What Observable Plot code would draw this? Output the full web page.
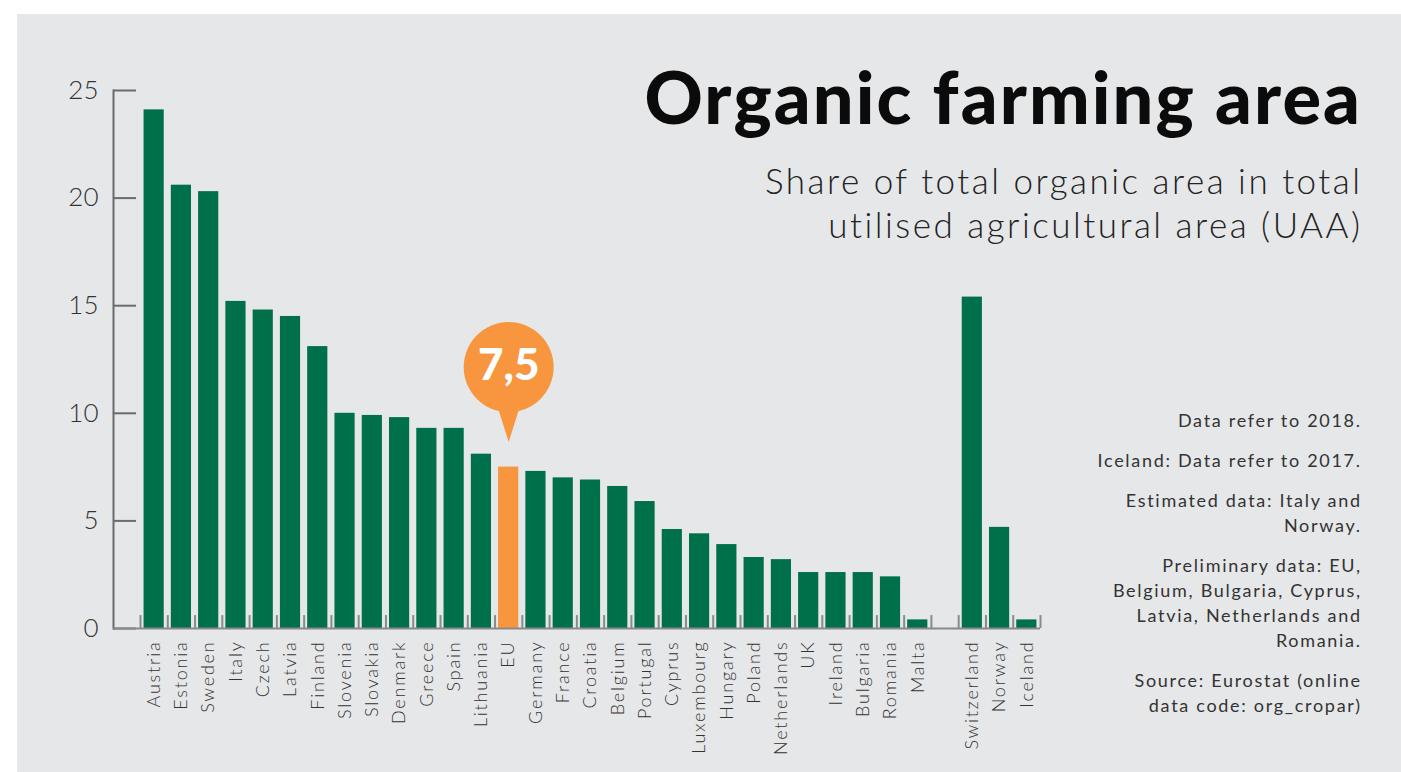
<!DOCTYPE html>
<html><head><meta charset="utf-8">
<script src="https://cdn.jsdelivr.net/npm/d3@7"></script>
<script src="https://cdn.jsdelivr.net/npm/@observablehq/plot@0.6"></script>
<style>
body{margin:0;background:#fff;width:1401px;height:772px;overflow:hidden;position:relative;font-family:Lato,"Open Sans",sans-serif}
#panel{position:absolute;left:17px;top:14px;width:1384px;height:758px;background:#e6e7e9}
#chart{position:absolute;left:0;top:0}
#title{position:absolute;right:41px;top:60px;font-size:72px;line-height:72px;font-weight:900;color:#0b0b0b;white-space:nowrap;letter-spacing:2.1px;margin-right:-2.1px}
#subtitle{position:absolute;right:41px;top:158px;font-size:35px;line-height:44px;font-weight:300;color:#222;text-align:right;white-space:nowrap;letter-spacing:2.5px;margin-right:-2.5px}
#notes{position:absolute;right:41px;top:408px;font-size:18px;line-height:25px;font-weight:400;color:#333;text-align:right;white-space:nowrap;letter-spacing:1.7px;margin-right:-1.7px}
#notes p{margin:0 0 15px 0}
#chart svg g[aria-label="x-axis tick label"] text{letter-spacing:1.8px}
</style></head>
<body>
<div id="panel"></div>
<div id="chart"></div>
<div id="title">Organic farming area</div>
<div id="subtitle">Share of total organic area in total<br>utilised agricultural area (UAA)</div>
<div id="notes">
<p>Data refer to 2018.</p>
<p>Iceland: Data refer to 2017.</p>
<p>Estimated data: Italy and<br>Norway.</p>
<p>Preliminary data: EU,<br>Belgium, Bulgaria, Cyprus,<br>Latvia, Netherlands and<br>Romania.</p>
<p>Source: Eurostat (online<br>data code: org_cropar)</p>
</div>
<script>
const countries = ["Austria","Estonia","Sweden","Italy","Czech","Latvia","Finland","Slovenia","Slovakia","Denmark","Greece","Spain","Lithuania","EU","Germany","France","Croatia","Belgium","Portugal","Cyprus","Luxembourg","Hungary","Poland","Netherlands","UK","Ireland","Bulgaria","Romania","Malta"];
const shares = [24.1,20.6,20.3,15.2,14.8,14.5,13.1,10.0,9.9,9.8,9.3,9.3,8.1,7.5,7.3,7.0,6.9,6.6,5.9,4.6,4.4,3.9,3.3,3.2,2.6,2.6,2.6,2.4,0.4];
const otherCountries = ["Switzerland","Norway","Iceland"];
const otherShares = [15.4,4.7,0.4];
const highlight = "EU";
const yTicks = [0,5,10,15,20,25];
const GAP = " ";

const green = "#00704a", orange = "#f7963f";
const rows = countries.map((c,i)=>({country:c, value:shares[i]}))
  .concat(otherCountries.map((c,i)=>({country:c, value:otherShares[i]})));
const domain = [...countries, GAP, ...otherCountries];
const x0 = 140, x1 = 1040;
const step = (x1 - x0) / domain.length;
const euRow = rows.filter(d => d.country === highlight);

const pointer = {draw(ctx){ ctx.moveTo(0,0); ctx.lineTo(-12,-38); ctx.lineTo(12,-38); ctx.closePath(); }};

const chart = Plot.plot({
  width:1401, height:772,
  marginLeft:113, marginRight:361, marginTop:90, marginBottom:144,
  style:{background:"transparent", fontFamily:"Lato, 'Open Sans', sans-serif", color:"#333"},
  x:{domain, range:[x0,x1], paddingInner:0.26, paddingOuter:0.13, round:false, axis:null},
  y:{domain:[0,25], axis:null},
  marks:[
    Plot.frame({anchor:"left", stroke:"#6b6b6b", strokeWidth:2}),
    Plot.axisY({ticks:yTicks, tickSize:23, dx:23, stroke:"#6b6b6b", strokeWidth:2, tickFormat:()=>"", label:null}),
    Plot.axisY({ticks:yTicks, tickSize:0, tickPadding:15, fontSize:26, fontWeight:300, fill:"#333", label:null}),
    Plot.barY(rows.filter(d=>d.country!==highlight), {x:"country", y:"value", fill:green}),
    Plot.barY(euRow, {x:"country", y:"value", fill:orange}),
    Plot.ruleY([0], {stroke:"#8a8a8a", strokeWidth:2}),
    Plot.ruleX(domain, {x:d=>d, y1:0, y2:0.6, dx:-step/2, stroke:"#8a8a8a", strokeWidth:2}),
    Plot.ruleX(domain.slice(-1), {x:d=>d, y1:0, y2:0.6, dx:step/2, stroke:"#8a8a8a", strokeWidth:2}),
    Plot.axisX({tickSize:0, tickPadding:12, tickRotate:-90, fontSize:18, fontWeight:300, fill:"#333", tickFormat:d=>d===GAP?"":d, label:null}),
    Plot.dot(euRow, {x:"country", y:"value", symbol:pointer, r:10, fill:orange, stroke:null, dy:-25}),
    Plot.dot(euRow, {x:"country", y:"value", r:45, fill:orange, stroke:null, dy:-100}),
    Plot.text(euRow, {x:"country", y:"value", text:d=>String(d.value).replace(".", ","), dy:-101, fill:"white", fontSize:44, fontWeight:900})
  ]
});
document.getElementById("chart").appendChild(chart);
</script>
</body></html>
